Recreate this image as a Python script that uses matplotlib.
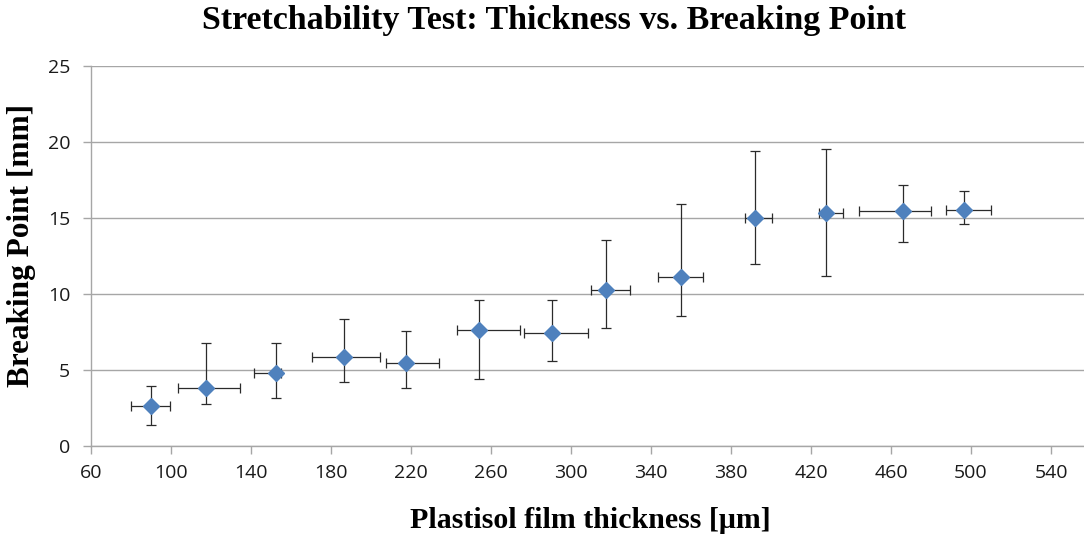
import matplotlib
matplotlib.use("Agg")
import matplotlib.pyplot as plt
import numpy as np

# Film thickness (µm) and breaking point (mm) with measured spread
thickness = [89.8, 117.3, 152.3, 186.5, 217.5, 253.8, 290.5, 317.5, 355.2, 392.0, 427.3, 466.2, 496.7]
breaking = [2.65, 3.79, 4.82, 5.88, 5.46, 7.63, 7.41, 10.26, 11.14, 14.98, 15.35, 15.46, 15.53]

thick_low = [79.8, 103.3, 141.5, 170.3, 207.3, 242.8, 276.3, 310.0, 343.7, 387.2, 424.0, 444.2, 487.3]
thick_high = [99.5, 134.7, 155.0, 204.5, 234.2, 274.7, 308.7, 329.5, 366.2, 400.7, 435.8, 479.8, 509.8]
break_low = [1.38, 2.79, 3.18, 4.19, 3.79, 4.38, 5.57, 7.79, 8.57, 11.97, 11.20, 13.40, 14.59]
break_high = [3.97, 6.75, 6.75, 8.36, 7.59, 9.58, 9.58, 13.57, 15.94, 19.39, 19.56, 17.17, 16.76]

x_ticks = [60, 100, 140, 180, 220, 260, 300, 340, 380, 420, 460, 500, 540]
y_ticks = [0, 5, 10, 15, 20, 25]

x = np.array(thickness)
y = np.array(breaking)
xerr = np.vstack([x - np.array(thick_low), np.array(thick_high) - x])
yerr = np.vstack([y - np.array(break_low), np.array(break_high) - y])

W, H, DPI = 1084, 538, 100
fig = plt.figure(figsize=(W / DPI, H / DPI), dpi=DPI)
fig.patch.set_facecolor("white")

ax_left, ax_bottom, ax_top = 91, 446, 66
ax_w = 1000
ax = fig.add_axes([ax_left / W, (H - ax_bottom) / H, ax_w / W, (ax_bottom - ax_top) / H])

ax.errorbar(x, y, xerr=xerr, yerr=yerr, fmt="none", ecolor="#2b2b2b",
            elinewidth=0.9, capsize=3.6, capthick=0.9, zorder=2)
ax.plot(x, y, linestyle="none", marker="D", markersize=7.8,
        markerfacecolor="#4F81BD", markeredgecolor="#4F81BD", zorder=3)

ax.set_xlim(60, 560)
ax.set_ylim(0, 25)
ax.set_xticks(x_ticks)
ax.set_yticks(y_ticks)

grid_col = "#A6A6A6"
ax.yaxis.grid(True, color=grid_col, linewidth=1.0)
ax.set_axisbelow(True)
for side in ("top", "right"):
    ax.spines[side].set_visible(False)
for side in ("left", "bottom"):
    ax.spines[side].set_color(grid_col)
    ax.spines[side].set_linewidth(1.0)

tick_family = ["Open Sans", "DejaVu Sans"]
ax.tick_params(axis="both", colors=grid_col, labelcolor="#1a1a1a",
               direction="out", length=6, width=1.0)
ax.tick_params(axis="x", pad=7)
ax.tick_params(axis="y", pad=9)
for lab in ax.get_xticklabels() + ax.get_yticklabels():
    lab.set_fontfamily(tick_family)
    lab.set_fontsize(14)

serif = ["Liberation Serif", "DejaVu Serif"]
fig.text(554 / W, 1 - 21 / H, "Stretchability Test: Thickness vs. Breaking Point",
         ha="center", va="center", fontsize=24.5, fontweight="bold", family=serif)
fig.text(590 / W, 1 - 520 / H, "Plastisol film thickness [μm]",
         ha="center", va="center", fontsize=21.5, fontweight="bold", family=serif)
fig.text(22 / W, 1 - 245 / H, "Breaking Point [mm]", rotation=90,
         ha="center", va="center", fontsize=22.5, fontweight="bold", family=serif)

fig.savefig("out.png", dpi=DPI, facecolor="white")
